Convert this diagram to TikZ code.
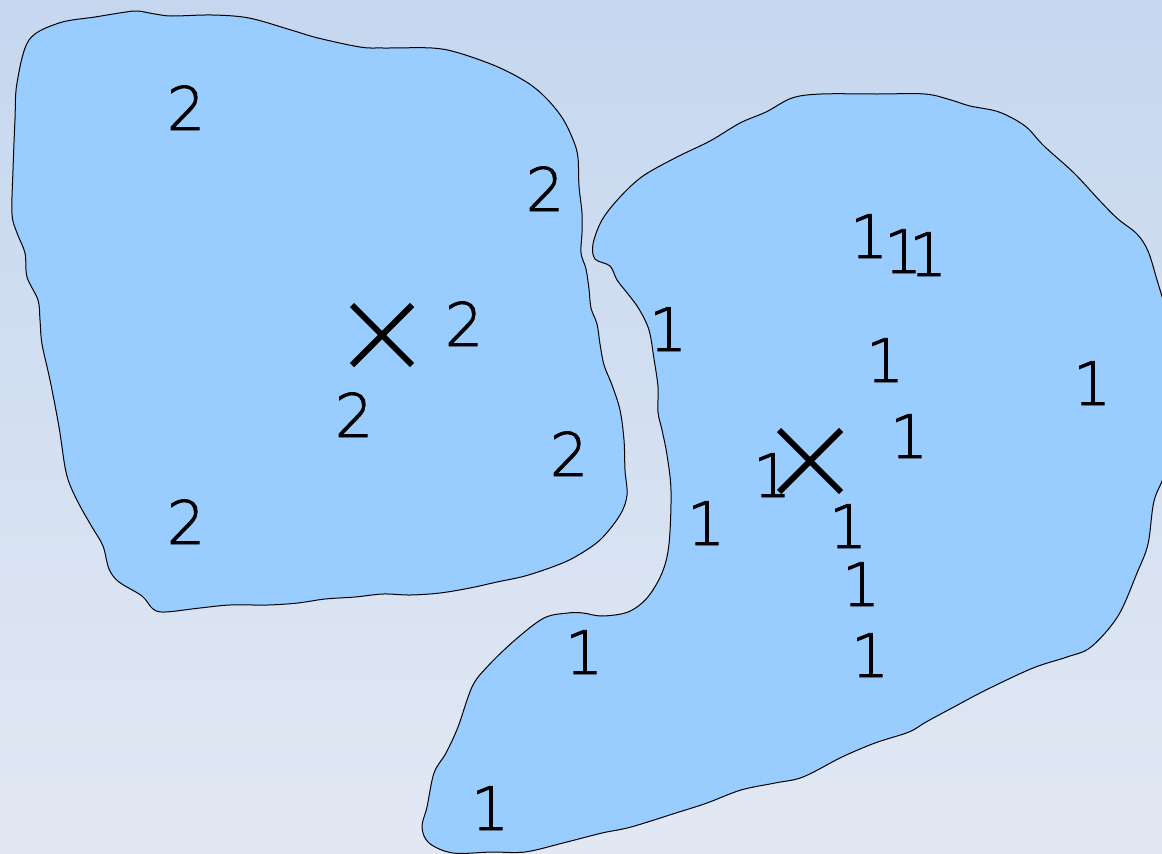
\documentclass[tikz,border=0pt]{standalone}
\usepackage{fontspec}
\setmainfont{DejaVu Sans}
\IfFontExistsTF{DejaVu Sans ExtraLight}
  {\newfontface\digfont{DejaVu Sans ExtraLight}[FakeBold=1.5]}
  {\newfontface\digfont{DejaVu Sans}}
\definecolor{bgtop}{RGB}{197,215,239}
\definecolor{bgmid}{RGB}{221,229,241}
\definecolor{bgbot}{RGB}{226,232,243}
\definecolor{blobfill}{RGB}{153,204,255}
\tikzset{
  blob/.style={draw=black, line width=1pt, fill=blobfill},
  lbl/.style={inner sep=0pt, anchor=base, font=\digfont\fontsize{60}{72}\selectfont},
  crossline/.style={line width=6pt, black}
}
\begin{document}
\begin{tikzpicture}[x=1pt,y=-1pt]
\useasboundingbox (0,0) rectangle (1162,854);
\shade[top color=bgtop, middle color=bgmid, bottom color=bgbot] (0,0) rectangle (1162,854);
% left blob
\draw[blob] plot[smooth cycle, tension=0.55] coordinates {
(29,40) (59,23) (95,17) (126,12) (138,11) (155,14) (172,16) (212,15) (249,18) (291,30) (318,38) (360,47) (383,48) (432,48) (459,53) (498,67) (528,83) (547,99) (563,119) (574,142) (578,158) (579,186) (582,213) (582,233) (581,253) (586,269) (589,289) (591,308) (597,324) (600,344) (604,365) (612,385) (620,410) (624,440) (625,470) (627,495) (620,515) (600,540) (575,557) (555,566) (525,576) (497,582) (470,588) (440,593) (410,595) (383,594) (355,597) (325,599) (298,603) (268,605) (230,605) (200,608) (165,612) (153,609) (142,596) (119,582) (109,569) (103,546) (92,527) (80,506) (70,485) (65,467) (59,427) (50,380) (42,344) (40,320) (38,300) (27,277) (25,253) (17,233) (12,214) (13,170) (15,119) (17,83)};
% right blob
\draw[blob] plot[smooth cycle, tension=0.55] coordinates {
(593,244) (602,220) (620,197) (643,176) (677,157) (710,141) (740,123) (766,112) (792,98) (821,94) (877,94) (925,94) (951,100) (970,106) (999,112) (1025,126) (1044,146) (1074,173) (1100,201) (1118,219) (1137,234) (1148,251) (1157,280) (1166,312) (1174,360) (1174,420) (1166,470) (1154,501) (1148,544) (1137,573) (1118,616) (1091,647) (1067,657) (1033,668) (986,690) (952,708) (926,722) (909,732) (875,743) (842,757) (803,777) (775,783) (741,790) (707,803) (679,812) (631,827) (602,833) (563,843) (525,852) (492,852) (453,853) (429,843) (422,827) (427,807) (434,773) (446,753) (458,727) (472,687) (487,667) (515,640) (544,618) (568,613) (583,613) (602,616) (628,612) (647,598) (662,573) (669,544) (671,491) (667,455) (662,430) (658,412) (658,387) (654,359) (649,330) (639,309) (628,294) (617,280) (610,266) (595,259)};
% labels 2
\node[lbl] (a1) at (186,130) {2};
\node[lbl] (a2) at (545,211) {2};
\node[lbl] (a3) at (464,346) {2};
\node[lbl] (a4) at (354,437) {2};
\node[lbl] (a5) at (569,476) {2};
\node[lbl] (a6) at (186,544) {2};
% labels 1
\node[lbl] (b1) at (869,258) {1};
\node[lbl] (b2) at (903,273) {1};
\node[lbl] (b3) at (928,276) {1};
\node[lbl] (b4) at (668,351) {1};
\node[lbl] (b5) at (885,382) {1};
\node[lbl] (b6) at (1092,405) {1};
\node[lbl] (b7) at (909,458) {1};
\node[lbl] (b8) at (772,497) {1};
\node[lbl] (b9) at (706,545) {1};
\node[lbl] (b10) at (848,548) {1};
\node[lbl] (b11) at (861,606) {1};
\node[lbl] (b12) at (584,674) {1};
\node[lbl] (b13) at (870,677) {1};
\node[lbl] (b14) at (490,830) {1};
% crosses (centroids)
\coordinate (c1) at (382,335);
\coordinate (c2) at (810,461);
\draw[crossline] ([shift={(-30,-30)}]c1) -- ([shift={(30,30)}]c1);
\draw[crossline] ([shift={(-30,30)}]c1) -- ([shift={(30,-30)}]c1);
\draw[crossline] ([shift={(-31,-31)}]c2) -- ([shift={(31,31)}]c2);
\draw[crossline] ([shift={(-31,31)}]c2) -- ([shift={(31,-31)}]c2);
\end{tikzpicture}
\end{document}
